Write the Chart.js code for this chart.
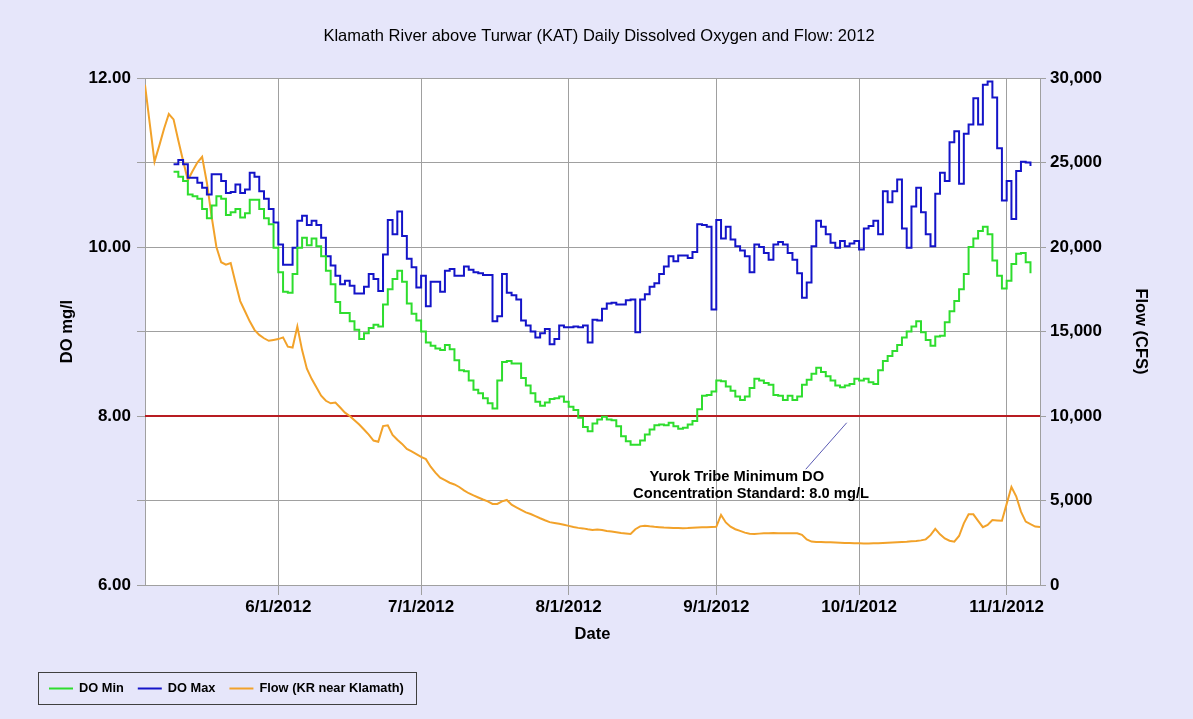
<!DOCTYPE html>
<html>
<head>
<meta charset="utf-8">
<script src="https://cdn.jsdelivr.net/npm/chart.js@4.4.1/dist/chart.umd.min.js"></script>
<style>
html,body{margin:0;padding:0;background:#E6E6FA;}
#wrap{width:1193px;height:719px;position:relative;}
</style>
</head>
<body>
<div id="wrap"><canvas id="c" width="1193" height="719"></canvas></div>
<script>
// ---------------- data ----------------
const titleText = 'Klamath River above Turwar (KAT) Daily Dissolved Oxygen and Flow: 2012';
const tickLabels = ['6/1/2012','7/1/2012','8/1/2012','9/1/2012','10/1/2012','11/1/2012'];
const xRange = ['5/4/2012','11/8/2012'];
const doStartDate = '5/10/2012';
const flowStartDate = '5/4/2012';
const seriesNames = ['DO Min','DO Max','Flow (KR near Klamath)'];
const standardValue = 8.0;
const standardText = ['Yurok Tribe Minimum DO','Concentration Standard: 8.0 mg/L'];

const doMax = [
 10.98,11.03,10.98,10.82,10.82,10.76,10.70,10.62,10.86,10.86,
 10.78,10.64,10.65,10.74,10.64,10.68,10.88,10.83,10.66,10.57,
 10.45,10.29,10.03,9.79,9.79,9.99,10.31,10.37,10.26,10.31,
 10.26,10.11,9.89,9.78,9.66,9.56,9.60,9.54,9.45,9.45,
 9.53,9.68,9.62,9.48,9.91,
 10.32,10.15,10.42,10.13,9.86,
 9.76,9.52,9.66,9.30,9.59,9.59,9.47,9.72,9.74,9.66,
 9.66,9.77,9.73,9.70,9.69,9.67,9.67,9.12,9.18,9.68,
 9.46,9.43,9.38,9.13,9.07,9.00,8.93,8.98,9.03,8.85,
 8.91,9.07,9.05,9.05,9.06,9.05,9.07,8.87,9.14,9.13,9.27,
 9.33,9.34,9.32,9.32,9.37,9.38,8.99,9.38,9.44,9.53,
 9.57,9.68,9.77,9.89,9.83,9.90,9.90,9.87,9.94,10.27,
 10.26,10.24,9.26,10.32,10.10,10.24,10.09,10.01,9.96,9.89,
 9.70,10.03,10.00,9.93,9.85,10.03,10.06,10.03,9.93,9.85,
 9.69,9.40,9.58,10.01,10.31,10.24,10.15,
 10.05,9.99,10.07,10.01,10.04,10.07,9.97,10.22,10.25,10.31,
 10.15,10.66,10.53,10.66,10.80,10.22,9.99,10.48,10.70,10.41,
 10.15,10.01,10.63,10.88,10.78,11.24,11.37,10.75,11.34,11.45,
 11.76,11.45,11.92,11.96,11.77,11.17,10.55,10.78,10.33,10.90,
 11.01,11.00,10.96
];

const doMin = [
 10.89,10.83,10.78,10.62,10.60,10.57,10.45,10.34,10.49,10.60,
 10.57,10.38,10.41,10.45,10.35,10.40,10.56,10.56,10.45,10.34,
 10.27,9.99,9.70,9.47,9.46,9.68,9.99,10.11,10.02,10.10,
 10.01,9.89,9.72,9.56,9.35,9.22,9.22,9.12,9.02,8.91,
 8.98,9.04,9.08,9.06,9.32,
 9.50,9.62,9.72,9.59,9.33,
 9.21,9.13,9.00,8.87,8.83,8.80,8.78,8.84,8.79,8.66,
 8.54,8.53,8.42,8.31,8.27,8.21,8.15,8.09,8.42,8.64,
 8.65,8.62,8.62,8.45,8.36,8.27,8.17,8.12,8.16,8.20,
 8.21,8.23,8.17,8.11,8.07,7.98,7.87,7.82,7.91,7.96,7.99,
 7.96,7.95,7.88,7.76,7.70,7.66,7.66,7.71,7.78,7.84,
 7.89,7.90,7.89,7.92,7.88,7.85,7.86,7.90,7.94,8.08,
 8.24,8.25,8.29,8.42,8.41,8.35,8.30,8.23,8.19,8.23,
 8.33,8.44,8.42,8.39,8.37,8.25,8.24,8.19,8.24,8.19,
 8.23,8.37,8.43,8.50,8.57,8.52,8.47,
 8.42,8.36,8.34,8.36,8.38,8.44,8.42,8.44,8.40,8.38,
 8.54,8.65,8.71,8.77,8.84,8.93,9.00,9.06,9.12,8.99,
 8.90,8.83,8.94,8.95,9.11,9.24,9.36,9.50,9.68,10.00,
 10.10,10.19,10.24,10.15,9.84,9.66,9.51,9.60,9.80,9.92,
 9.93,9.82,9.69
];

const flowCfs = [
 29600,27300,25050,26000,27000,27870,27550,26300,25100,23960,
 24500,25000,25340,23800,21800,20000,19100,18950,19050,17900,
 16800,16200,15600,15100,14800,14600,14450,14500,14550,14650,
 14100,14050,15300,13900,12800,12200,11700,11200,10900,10750,
 10800,10500,10200,10000,9750,9500,9200,8900,8550,8480,
 9400,9450,8880,8600,8350,8050,7900,7750,7580,7450,
 7000,6650,6350,6200,6050,5950,5800,5600,5430,5300,
 5180,5060,4950,4800,4800,4950,5030,4750,4600,4450,
 4300,4200,4080,3950,3830,3720,3670,3620,3560,3500,
 3430,3380,3350,3300,3260,3280,3250,3200,3160,3120,
 3080,3050,3020,3300,3470,3510,3470,3440,3420,3400,
 3390,3380,3370,3360,3370,3390,3400,3410,3420,3430,
 3440,4150,3700,3450,3300,3200,3100,3030,3020,3040,
 3060,3060,3070,3060,3060,3060,3060,3060,2970,2700,
 2570,2550,2540,2530,2525,2510,2500,2490,2480,2470,
 2465,2460,2460,2465,2470,2480,2495,2510,2525,2540,
 2560,2590,2610,2640,2700,2950,3320,3000,2750,2620,
 2560,2900,3650,4180,4180,3800,3420,3550,3840,3820,
 3800,4800,5800,5250,4340,3750,3600,3460,3430
];

// ---------------- helpers ----------------
function dayOf(s){
  const p = s.split('/').map(Number);
  return Math.round((Date.UTC(p[2], p[0]-1, p[1]) - Date.UTC(2012, 4, 1)) / 86400000);
}
const tickDays = tickLabels.map(dayOf);
const xMin = dayOf(xRange[0]), xMax = dayOf(xRange[1]);
const doStart = dayOf(doStartDate), flowStart = dayOf(flowStartDate);

const colors = {green:'#2EDD2E', blue:'#1414C8', orange:'#F2A22A', red:'#B81C22', grid:'#A0A0A0', bg:'#E6E6FA'};
const FONT = "'Liberation Sans', Arial, Helvetica, sans-serif";

// annotation placement (data coordinates), styling only
const annot = {
  leader: [{x:150.4, y:7.92},{x:141.8, y:7.37}],
  lines: [{x:127.3, y:7.28},{x:130.3, y:7.08}]
};

const frame = {
  id: 'frame',
  beforeDraw(chart){
    const {ctx, chartArea:a} = chart;
    ctx.save();
    ctx.fillStyle = colors.bg;
    ctx.fillRect(0,0,chart.width,chart.height);
    ctx.fillStyle = '#ffffff';
    ctx.fillRect(a.left,a.top,a.right-a.left,a.bottom-a.top);
    ctx.restore();
  },
  afterDatasetsDraw(chart){
    const {ctx} = chart;
    const xs = chart.scales.x, ys = chart.scales.y;
    ctx.save();
    ctx.strokeStyle = '#5a5ab4';
    ctx.lineWidth = 1;
    ctx.beginPath();
    ctx.moveTo(xs.getPixelForValue(annot.leader[0].x), ys.getPixelForValue(annot.leader[0].y));
    ctx.lineTo(xs.getPixelForValue(annot.leader[1].x), ys.getPixelForValue(annot.leader[1].y));
    ctx.stroke();
    ctx.fillStyle = '#000';
    ctx.font = 'bold 14.7px ' + FONT;
    ctx.textAlign = 'center';
    ctx.textBaseline = 'middle';
    standardText.forEach((t,i)=>{
      ctx.fillText(t, xs.getPixelForValue(annot.lines[i].x), ys.getPixelForValue(annot.lines[i].y));
    });
    ctx.restore();
  },
  afterDraw(chart){
    const {ctx} = chart;
    ctx.save();
    // title
    ctx.fillStyle = '#000';
    ctx.font = '16.5px ' + FONT;
    ctx.textAlign = 'center';
    ctx.textBaseline = 'middle';
    ctx.fillText(titleText, 599, 36);
    // legend
    const bx = 38.5, by = 672.5, bw = 378, bh = 32;
    ctx.strokeStyle = '#404040';
    ctx.lineWidth = 1;
    ctx.strokeRect(bx, by, bw, bh);
    ctx.font = 'bold 12.8px ' + FONT;
    ctx.textAlign = 'left';
    let x = 49;
    const cy = by + bh/2;
    const sw = [colors.green, colors.blue, colors.orange];
    seriesNames.forEach((n,i)=>{
      ctx.strokeStyle = sw[i];
      ctx.lineWidth = 2;
      ctx.beginPath(); ctx.moveTo(x, cy); ctx.lineTo(x+24, cy); ctx.stroke();
      ctx.fillStyle = '#000';
      ctx.fillText(n, x+30, cy);
      x = x + 30 + ctx.measureText(n).width + 14;
    });
    ctx.restore();
  }
};

const ds = [
  {label: seriesNames[0], data: doMin.map((v,i)=>({x: doStart+i, y: v})), yAxisID:'y',
   borderColor: colors.green, borderWidth: 2, pointRadius: 0, stepped: true, fill:false},
  {label: seriesNames[1], data: doMax.map((v,i)=>({x: doStart+i, y: v})), yAxisID:'y',
   borderColor: colors.blue, borderWidth: 2, pointRadius: 0, stepped: true, fill:false},
  {label: seriesNames[2], data: flowCfs.map((v,i)=>({x: flowStart+i, y: v})), yAxisID:'y1',
   borderColor: colors.orange, borderWidth: 2, pointRadius: 0, tension: 0, fill:false},
  {label: 'standard', data: [{x:xMin, y:standardValue},{x:xMax, y:standardValue}], yAxisID:'y',
   borderColor: colors.red, borderWidth: 2, pointRadius: 0, fill:false}
];

Chart.defaults.font.family = FONT;
Chart.defaults.color = '#000';

new Chart(document.getElementById('c'), {
  type: 'line',
  data: { datasets: ds },
  options: {
    responsive: false,
    animation: false,
    devicePixelRatio: 1,
    layout: { padding: {left:0, right:0, top:78, bottom:0} },
    plugins: { legend: {display:false}, title:{display:false}, tooltip:{enabled:false} },
    scales: {
      x: {
        type: 'linear', min: xMin, max: xMax,
        afterBuildTicks: s => { s.ticks = tickDays.map(v=>({value:v})); },
        afterFit: s => { s.height = 134; },
        ticks: { callback: (v,i) => tickLabels[i], font:{size:17, weight:'bold'}, padding: 2, maxRotation:0, autoSkip:false },
        grid: { color: colors.grid, lineWidth: 1, tickLength: 10 },
        border: { color: colors.grid },
        title: { display:true, text:'Date', font:{size:16.5, weight:'bold'}, padding:{top:0,bottom:75} }
      },
      y: {
        position:'left', min: 6, max: 12,
        afterFit: s => { s.width = 145; },
        ticks: { stepSize: 1, callback: v => (v % 2 === 0 ? v.toFixed(2) : ''), font:{size:17, weight:'bold'}, padding: 6 },
        grid: { color: colors.grid, lineWidth: 1, tickLength: 8 },
        border: { color: colors.grid },
        title: { display:true, text:'DO mg/l', font:{size:16.5, weight:'bold'}, padding:{top:58,bottom:0} }
      },
      y1: {
        position:'right', min: 0, max: 30000,
        afterFit: s => { s.width = 153; },
        ticks: { stepSize: 5000, callback: v => v.toLocaleString('en-US'), font:{size:17, weight:'bold'}, padding: 4 },
        grid: { drawOnChartArea:false, color: colors.grid, tickLength: 6 },
        border: { color: colors.grid },
        title: { display:true, text:'Flow (CFS)', font:{size:16.5, weight:'bold'}, padding:{top:43,bottom:0} }
      }
    }
  },
  plugins: [frame]
});
</script>
</body>
</html>
